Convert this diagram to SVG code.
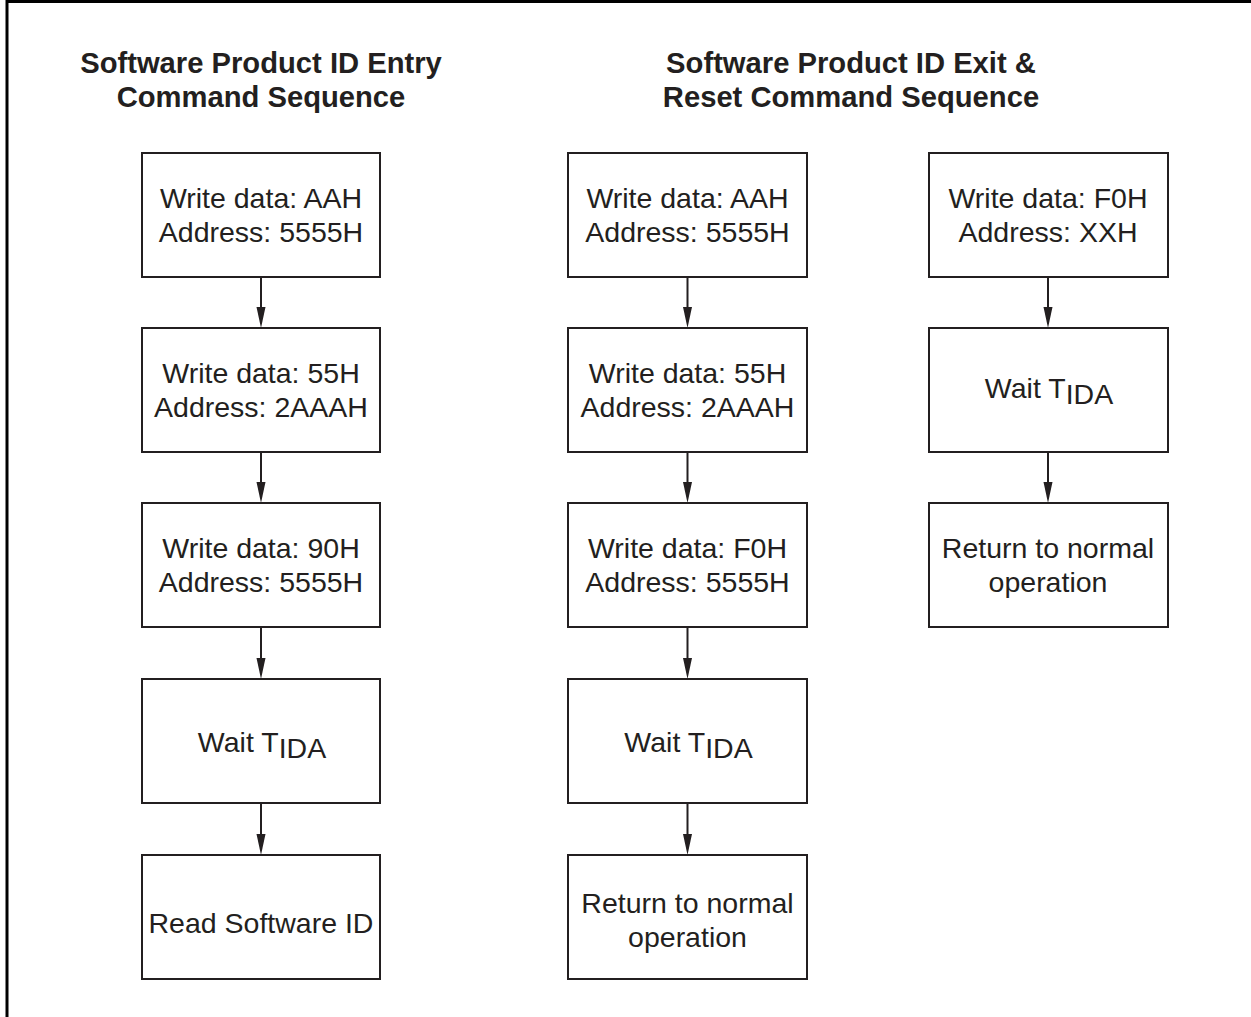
<svg xmlns="http://www.w3.org/2000/svg" width="1251" height="1017" viewBox="0 0 1251 1017">
  <style>
    .box { fill: #ffffff; stroke: #231f20; stroke-width: 2; }
    .lbl { font-family: "Liberation Sans", Arial, sans-serif; font-size: 28.5px; fill: #231f20; text-anchor: middle; }
    .head { font-family: "Liberation Sans", Arial, sans-serif; font-size: 29.2px; font-weight: bold; fill: #231f20; text-anchor: middle; }
    .wire { stroke: #231f20; stroke-width: 2; fill: none; }
    .tip { fill: #231f20; }
    .frame { stroke: #000000; stroke-width: 3; fill: none; }
  </style>

  <rect width="1251" height="1017" fill="#ffffff"/>
  <!-- outer frame (top and left edges) -->
  <path class="frame" d="M7,1017 L7,1.5 L1251,1.5"/>

  <!-- column headings -->
  <g id="heading-entry">
    <text class="head" x="261" y="73">Software Product ID Entry</text>
    <text class="head" x="261" y="107">Command Sequence</text>
  </g>
  <g id="heading-exit">
    <text class="head" x="851" y="73">Software Product ID Exit &amp;</text>
    <text class="head" x="851" y="107">Reset Command Sequence</text>
  </g>

  <!-- connectors -->
  <g id="connectors">
    <g class="wire">
      <line x1="261" y1="278" x2="261" y2="310"/>
      <line x1="261" y1="453" x2="261" y2="485"/>
      <line x1="261" y1="628" x2="261" y2="661"/>
      <line x1="261" y1="804" x2="261" y2="837"/>
      <line x1="687.5" y1="278" x2="687.5" y2="310"/>
      <line x1="687.5" y1="453" x2="687.5" y2="485"/>
      <line x1="687.5" y1="628" x2="687.5" y2="661"/>
      <line x1="687.5" y1="804" x2="687.5" y2="837"/>
      <line x1="1048" y1="278" x2="1048" y2="310"/>
      <line x1="1048" y1="453" x2="1048" y2="485"/>
    </g>
    <g class="tip">
      <path d="M256.5,307 L265.5,307 L261,328 Z"/>
      <path d="M256.5,482 L265.5,482 L261,503 Z"/>
      <path d="M256.5,658 L265.5,658 L261,679 Z"/>
      <path d="M256.5,834 L265.5,834 L261,855 Z"/>
      <path d="M683,307 L692,307 L687.5,328 Z"/>
      <path d="M683,482 L692,482 L687.5,503 Z"/>
      <path d="M683,658 L692,658 L687.5,679 Z"/>
      <path d="M683,834 L692,834 L687.5,855 Z"/>
      <path d="M1043.5,307 L1052.5,307 L1048,328 Z"/>
      <path d="M1043.5,482 L1052.5,482 L1048,503 Z"/>
    </g>
  </g>

  <!-- entry sequence -->
  <g id="entry-1">
    <rect class="box" x="142" y="153" width="238" height="124"/>
    <text class="lbl" x="261" y="208">Write data: AAH</text>
    <text class="lbl" x="261" y="242">Address: 5555H</text>
  </g>
  <g id="entry-2">
    <rect class="box" x="142" y="328" width="238" height="124"/>
    <text class="lbl" x="261" y="383">Write data: 55H</text>
    <text class="lbl" x="261" y="417">Address: 2AAAH</text>
  </g>
  <g id="entry-3">
    <rect class="box" x="142" y="503" width="238" height="124"/>
    <text class="lbl" x="261" y="558">Write data: 90H</text>
    <text class="lbl" x="261" y="592">Address: 5555H</text>
  </g>
  <g id="entry-4">
    <rect class="box" x="142" y="679" width="238" height="124"/>
    <text class="lbl" x="262" y="752">Wait T<tspan dy="6">IDA</tspan></text>
  </g>
  <g id="entry-5">
    <rect class="box" x="142" y="855" width="238" height="124"/>
    <text class="lbl" x="261" y="933">Read Software ID</text>
  </g>

  <!-- exit sequence, three-step form -->
  <g id="exit-1">
    <rect class="box" x="568" y="153" width="239" height="124"/>
    <text class="lbl" x="687.5" y="208">Write data: AAH</text>
    <text class="lbl" x="687.5" y="242">Address: 5555H</text>
  </g>
  <g id="exit-2">
    <rect class="box" x="568" y="328" width="239" height="124"/>
    <text class="lbl" x="687.5" y="383">Write data: 55H</text>
    <text class="lbl" x="687.5" y="417">Address: 2AAAH</text>
  </g>
  <g id="exit-3">
    <rect class="box" x="568" y="503" width="239" height="124"/>
    <text class="lbl" x="687.5" y="558">Write data: F0H</text>
    <text class="lbl" x="687.5" y="592">Address: 5555H</text>
  </g>
  <g id="exit-4">
    <rect class="box" x="568" y="679" width="239" height="124"/>
    <text class="lbl" x="688.5" y="752">Wait T<tspan dy="6">IDA</tspan></text>
  </g>
  <g id="exit-5">
    <rect class="box" x="568" y="855" width="239" height="124"/>
    <text class="lbl" x="687.5" y="913">Return to normal</text>
    <text class="lbl" x="687.5" y="947">operation</text>
  </g>

  <!-- exit sequence, single-step form -->
  <g id="exit-short-1">
    <rect class="box" x="929" y="153" width="239" height="124"/>
    <text class="lbl" x="1048" y="208">Write data: F0H</text>
    <text class="lbl" x="1048" y="242">Address: XXH</text>
  </g>
  <g id="exit-short-2">
    <rect class="box" x="929" y="328" width="239" height="124"/>
    <text class="lbl" x="1049" y="398">Wait T<tspan dy="6">IDA</tspan></text>
  </g>
  <g id="exit-short-3">
    <rect class="box" x="929" y="503" width="239" height="124"/>
    <text class="lbl" x="1048" y="558">Return to normal</text>
    <text class="lbl" x="1048" y="592">operation</text>
  </g>
</svg>
